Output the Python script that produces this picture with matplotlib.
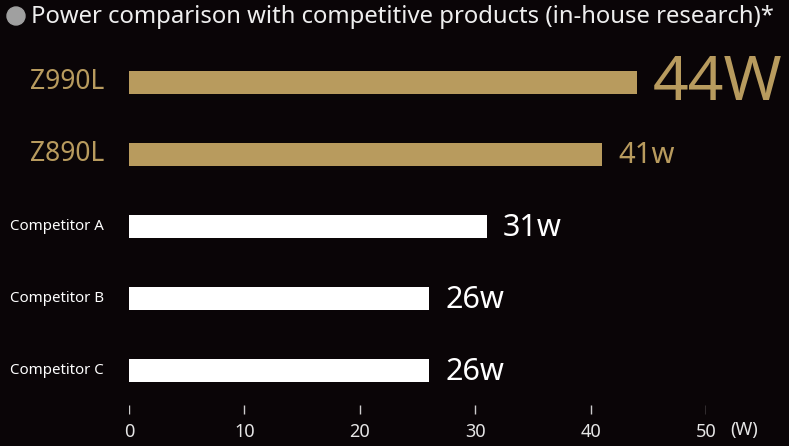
import matplotlib
matplotlib.use("Agg")
import matplotlib.pyplot as plt
from matplotlib.patches import Circle

# data
products = ["Z990L", "Z890L", "Competitor A", "Competitor B", "Competitor C"]
power_w = [44, 41, 31, 26, 26]
value_labels = ["44W", "41w", "31w", "26w", "26w"]
x_ticks = [0, 10, 20, 30, 40, 50]

BG = "#0a0507"
GOLD = "#b89b5e"
WHITE = "#ffffff"
colors = [GOLD, GOLD, WHITE, WHITE, WHITE]
label_sizes = [19, 19, 10.8, 10.8, 10.8]
value_sizes = [45, 21, 22, 22, 22]

plt.rcParams["font.family"] = ["Noto Sans", "DejaVu Sans"]

W, H = 789, 446
fig = plt.figure(figsize=(W / 100, H / 100), dpi=100, facecolor=BG)

# axes spans 0..50 W across pixels 129..706, full height
x0, x1 = 129, 706
ax = fig.add_axes([x0 / W, 0, (x1 - x0) / W, 1])
ax.set_facecolor(BG)
ax.axis("off")

row0, step = 82.5, 72.0
ax.set_xlim(0, 50)
ax.set_ylim((H - row0) / step, -row0 / step)

def px_to_y(py):
    return (py - row0) / step

ypos = list(range(len(products)))
ax.barh(ypos, power_w, height=23 / step, color=colors, edgecolor="none")

for i, (name, val, lab) in enumerate(zip(products, power_w, value_labels)):
    ax.annotate(name, xy=(0, i), xytext=(-25 * 0.72, 0), textcoords="offset points",
                ha="right", va="center", color=colors[i], fontsize=label_sizes[i])
    ax.annotate(lab, xy=(val, i), xytext=(16 * 0.72, -1), textcoords="offset points",
                ha="left", va="center", color=colors[i], fontsize=value_sizes[i])

# x ticks drawn by hand along the bottom
for t in x_ticks:
    ax.plot([t, t], [px_to_y(405), px_to_y(414)], color="#cccccc", lw=1, solid_capstyle="butt")
    ax.text(t, px_to_y(432), str(t), ha="center", va="center", color="#e6e6e6",
            fontsize=13)
ax.annotate("(W)", xy=(50, px_to_y(430)), xytext=(38 * 0.72, 0), textcoords="offset points",
            ha="center", va="center", color="#e6e6e6", fontsize=13)

# title with grey bullet
dot = Circle((16, H - 16), 9, transform=None, color="#a0a0a0")
fig.patches.append(dot)
fig.text(31 / W, 1 - 17 / H, "Power comparison with competitive products (in-house research)*",
         ha="left", va="center", color="#eeeeee", fontsize=17.2)

fig.savefig("out.png", dpi=100, facecolor=BG)
